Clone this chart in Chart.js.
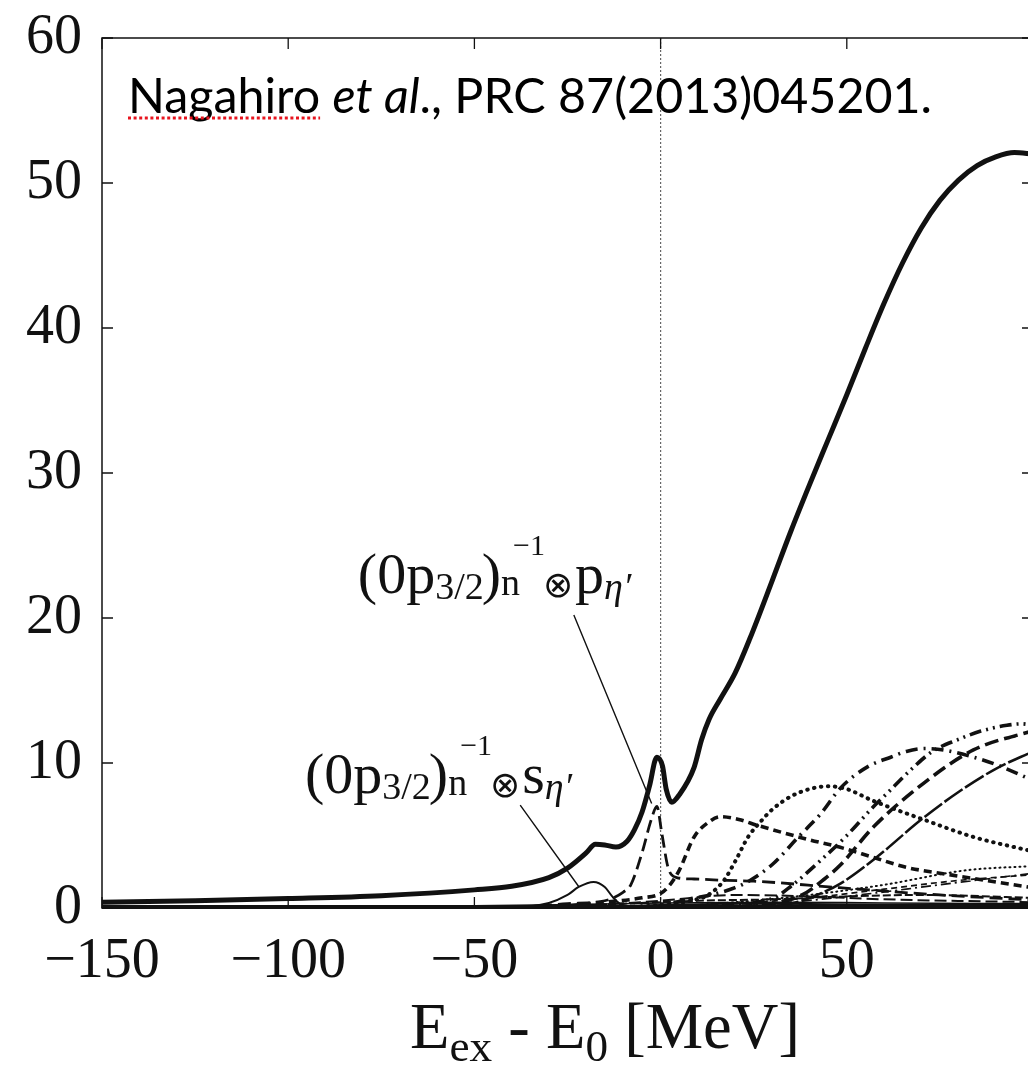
<!DOCTYPE html>
<html>
<head>
<meta charset="utf-8">
<script src="https://cdn.jsdelivr.net/npm/chart.js@4.4.1/dist/chart.umd.min.js"></script>
<style>
body{margin:0;background:#fff;overflow:hidden}
#wrap{width:1028px;height:1068px;overflow:hidden}
</style>
</head>
<body>
<div id="wrap"><canvas id="myChart" width="1040" height="1068"></canvas></div>
<script>
// total spectrum (thick solid)
const totalE=[-150,-125,-100,-75,-50,-40,-30,-25,-20,-17.5,-15,-12,-9,-7,-5,-3,-1,0.5,1.5,3,5,9,11,13,16,20,24,30,35,40,45,50,55,60,65,70,75,80,85,90,95,100]
const totalV=[0.4,0.5,0.65,0.85,1.25,1.5,2.1,2.75,3.8,4.4,4.35,4.2,4.6,5.4,6.6,8.4,10.4,9.8,8.2,7.3,7.8,9.7,11.6,13.0,14.4,16.2,18.6,22.6,26.0,29.2,32.3,35.4,38.6,41.7,44.5,46.9,48.8,50.2,51.2,51.8,52.1,52.0]
// (0p3/2)^-1 x s  (thin solid)
const sE=[-150,-40,-30,-25,-22,-18,-15,-13,-11,-8,0,100]
const sV=[0,0.05,0.35,0.9,1.45,1.8,1.45,0.8,0.3,0.1,0.05,0]
// (0p3/2)^-1 x p  (long dash)
const pE=[-150,-40,-25,-15,-10,-8,-5,-2.5,-1,0.3,2,4.3,9,18,25,48,75,100]
const pV=[0,0.05,0.3,0.5,1.1,1.6,3.8,6.1,7.0,5.2,2.8,2.1,2.0,1.9,1.85,1.4,0.9,0.55]
// short dash, peak near 15
const c3E=[-150,-30,-15,-5,0,2.5,5,9,12.8,16,21,26,40,48,57,66,75,80,100]
const c3V=[0,0.1,0.4,0.7,1.0,1.6,2.6,4.9,5.9,6.3,6.1,5.7,4.7,4.2,3.5,2.8,2.4,2.2,1.4]
// dotted, peak near 45
const c4E=[-150,-20,0,8,12.8,17,20,23.5,27,30,35,40,45,50,57,70.6,84,100]
const c4V=[0,0.05,0.2,0.5,0.9,1.9,3.2,4.9,6.0,6.8,7.7,8.2,8.4,8.2,7.4,6.1,4.9,3.9]
// dash-dot, peak near 71
const c5E=[-150,0,5.6,15,20,24,30,37,43,48.4,56,61.8,66,71,76,84,90,100]
const c5V=[0,0.1,0.5,1.0,1.4,1.9,3.0,4.9,6.5,8.3,9.8,10.4,10.8,11.0,10.9,10.4,9.9,8.8]
// dash-dot-dot, peak near 95
const c6E=[-150,10,20,30.5,35,43.9,50,57.2,60,67.9,73,79.7,86,93,97,100]
const c6V=[0,0.1,0.3,0.7,1.5,3.5,5.0,7.0,7.7,9.7,10.8,11.6,12.2,12.6,12.7,12.6]
// long dash, rising
const c7E=[-150,20,30,38,44,48.4,57.2,70.6,84,98.4,100]
const c7V=[0,0.1,0.3,0.9,2.0,3.0,5.6,8.6,10.9,12.1,12.2]
// solid-ish, rising
const c8E=[-150,25,35,42,48.4,58,70,80,90,100]
const c8V=[0,0.1,0.3,0.9,1.7,3.5,6.1,8.0,9.6,10.8]
// small curves near the bottom
const c9E=[-150,0,20,40,60,82,100]
const c9V=[0,0.1,0.4,0.9,1.6,2.6,2.9]
const c10E=[-150,0,20,40,60,80,100]
const c10V=[0,0.1,0.3,0.7,1.3,1.9,2.3]
const c11E=[-150,10,30,50,75,100]
const c11V=[0,0.1,0.3,0.8,1.6,2.4]
const c12E=[-150,-20,0,20,40,60,100]
const c12V=[0,0.2,0.5,0.9,0.8,0.6,0.4]
const c13E=[-150,-50,-20,0,30,60,100]
const c13V=[0.1,0.15,0.25,0.35,0.4,0.35,0.3]
const c14E=[-150,-30,-10,10,30,50,70,100]
const c14V=[0,0.1,0.3,0.5,0.6,0.8,0.9,0.7]
const c15E=[-150,-20,0,20,50,80,100]
const c15V=[0.05,0.1,0.2,0.3,0.25,0.2,0.2]

const xTicks=[-150,-100,-50,0,50]
const yTicks=[0,10,20,30,40,50,60]

function pts(e,v){ return e.map((x,i)=>({x:x,y:v[i]})) }
function ds(e,v,w,dash,cap){
  return {data:pts(e,v),borderColor:'#111',borderWidth:w,borderDash:dash,borderCapStyle:cap||'butt',fill:false}
}

const datasets=[
  ds(c15E,c15V,2,[]),
  ds(c14E,c14V,2,[8,3]),
  ds(c13E,c13V,1.6,[]),
  ds(c12E,c12V,2,[12,5]),
  ds(c11E,c11V,1.7,[10,4,2,4]),
  ds(c10E,c10V,1.7,[6,4]),
  ds(c9E,c9V,2,[1,4],'round'),
  ds(c8E,c8V,2.6,[22,3]),
  ds(c7E,c7V,3.6,[14,6]),
  ds(c6E,c6V,3.6,[12,5,2,5,2,5]),
  ds(c5E,c5V,3.6,[12,6,2,6]),
  ds(c4E,c4V,4,[0.5,6.5],'round'),
  ds(c3E,c3V,3.6,[8,5]),
  ds(pE,pV,2.8,[13,6]),
  ds(sE,sV,2.0,[]),
  ds(totalE,totalV,5,[])
]

function runs(ctx,x,y,list){
  let cx=x, prevX=x
  for(const r of list){
    ctx.font=r.f
    const w=ctx.measureText(r.t).width
    let sx=r.over ? prevX+(r.dx||0) : cx+(r.dx||0)
    ctx.fillText(r.t,sx,y+(r.dy||0))
    if(r.over){ cx=Math.max(cx,sx+w) } else { prevX=sx; cx=sx+w }
  }
}

const big='58px "Liberation Serif"', sub='38px "Liberation Serif"', sup='30px "Liberation Serif"', subI='italic 38px "Liberation Serif"'
function stateLabel(letter){
  return [
    {t:'(0p',f:big},{t:'3/2',f:sub,dy:6},{t:')',f:big,dx:-2},
    {t:'n',f:sub,dy:2},{t:'\u22121',f:sup,dy:-38,dx:12,over:true},
    {t:'\u2297',f:'36px "DejaVu Sans"',dy:4,dx:-2},
    {t:letter,f:big,dx:2},{t:'\u03B7\u2032',f:subI,dy:6}
  ]
}
// annotation positions, in data units
const labelP={x:-81.3,y:21.7}, labelS={x:-95.5,y:7.93}
const leaderP=[[-23.3,20.2],[-2.4,7.2]], leaderS=[[-37.7,7.1],[-21.9,1.45]]

const decor={
  id:'decor',
  beforeDatasetsDraw(chart){
    const {ctx,chartArea:a,scales:{x}}=chart
    ctx.save()
    ctx.strokeStyle='#666'; ctx.lineWidth=1.2; ctx.setLineDash([2,2])
    const px=x.getPixelForValue(0)
    ctx.beginPath(); ctx.moveTo(px,a.top); ctx.lineTo(px,a.bottom); ctx.stroke()
    ctx.restore()
  },
  afterDatasetsDraw(chart){
    const {ctx,chartArea:a,scales:{x,y}}=chart
    ctx.save()
    ctx.strokeStyle='#111'; ctx.lineWidth=1.5
    ctx.strokeRect(a.left,a.top,a.right-a.left,a.bottom-a.top)
    ctx.lineWidth=4
    ctx.beginPath(); ctx.moveTo(a.left,a.bottom-1); ctx.lineTo(a.right,a.bottom-1); ctx.stroke()
    ctx.lineWidth=1.3
    ctx.beginPath()
    for(const v of xTicks){
      const px=x.getPixelForValue(v)
      ctx.moveTo(px,a.bottom); ctx.lineTo(px,a.bottom-11)
      ctx.moveTo(px,a.top); ctx.lineTo(px,a.top+11)
    }
    for(const v of yTicks){
      const py=y.getPixelForValue(v)
      ctx.moveTo(a.left,py); ctx.lineTo(a.left+11,py)
      ctx.moveTo(a.right,py); ctx.lineTo(a.right-11,py)
    }
    ctx.stroke()
    // leader lines
    ctx.lineWidth=1.4
    ctx.beginPath()
    for(const l of [leaderP,leaderS]){
      ctx.moveTo(x.getPixelForValue(l[0][0]),y.getPixelForValue(l[0][1]))
      ctx.lineTo(x.getPixelForValue(l[1][0]),y.getPixelForValue(l[1][1]))
    }
    ctx.stroke()
    ctx.fillStyle='#111'; ctx.textBaseline='alphabetic'; ctx.textAlign='left'
    runs(ctx,x.getPixelForValue(labelP.x),y.getPixelForValue(labelP.y),stateLabel('p'))
    runs(ctx,x.getPixelForValue(labelS.x),y.getPixelForValue(labelS.y),stateLabel('s'))

    // reference text
    const parts=[['Nagahiro ',''],['et al','italic '],['., PRC 87(2013)045201.','']]
    let total=0
    for(const p of parts){ ctx.font=p[1]+'100px Lato'; total+=ctx.measureText(p[0]).width }
    const fs=100*804/total
    let tx=128
    const ty=113
    let nW=0
    for(const p of parts){
      ctx.font=p[1]+fs.toFixed(2)+'px Lato'
      ctx.fillStyle='#000'
      ctx.fillText(p[0],tx,ty)
      if(p[0]==='Nagahiro ') nW=ctx.measureText('Nagahiro').width
      tx+=ctx.measureText(p[0]).width
    }
    ctx.strokeStyle='#e8141e'; ctx.lineWidth=3; ctx.setLineDash([3,2.6])
    ctx.beginPath(); ctx.moveTo(128,118); ctx.lineTo(128+nW,118); ctx.stroke()
    ctx.setLineDash([])

    // x axis title, sized to the reference width
    ctx.fillStyle='#111'
    const mk=s=>[{t:'E',f:s+'px "Liberation Serif"'},{t:'ex',f:(s*0.7)+'px "Liberation Serif"',dy:s*0.2},
      {t:' - E',f:s+'px "Liberation Serif"'},{t:'0',f:(s*0.7)+'px "Liberation Serif"',dy:s*0.2},{t:' [MeV]',f:s+'px "Liberation Serif"'}]
    let tw=0
    for(const r of mk(60)){ ctx.font=r.f; tw+=ctx.measureText(r.t).width }
    const ts=60*390/tw
    runs(ctx,410,1048,mk(ts))
    ctx.restore()
  }
}

Chart.defaults.font.family='"Liberation Serif"'
const chart=new Chart('myChart',{
  type:'line',
  data:{datasets:datasets},
  options:{
    responsive:false,animation:false,devicePixelRatio:1,
    layout:{padding:{top:38,right:7,left:0,bottom:0}},
    plugins:{legend:{display:false},tooltip:{enabled:false}},
    elements:{point:{radius:0},line:{cubicInterpolationMode:'monotone',borderJoinStyle:'round'}},
    scales:{
      x:{type:'linear',min:-150,max:100,
        afterFit(s){ s.height=160 },
        afterBuildTicks(s){ s.ticks=xTicks.map(v=>({value:v})) },
        grid:{display:false,drawTicks:false},border:{display:false},
        ticks:{autoSkip:false,maxRotation:0,padding:21,color:'#111',font:{size:56},
          callback:v=>String(v).replace('-','\u2212')}},
      y:{min:0,max:60,
        afterFit(s){ s.width=102; s.paddingTop=0; s.paddingBottom=0 },
        afterBuildTicks(s){ s.ticks=yTicks.map(v=>({value:v})) },
        grid:{display:false,drawTicks:false},border:{display:false},
        ticks:{padding:20,color:'#111',font:{size:56,lineHeight:0.5}}}
    }
  },
  plugins:[decor]
})
// keep the plot frame where the reference has it
const dTop=chart.chartArea.top-38
if(dTop){
  chart.options.layout.padding.top=Math.max(0,38-dTop)
  chart.update()
}
</script>
</body>
</html>
